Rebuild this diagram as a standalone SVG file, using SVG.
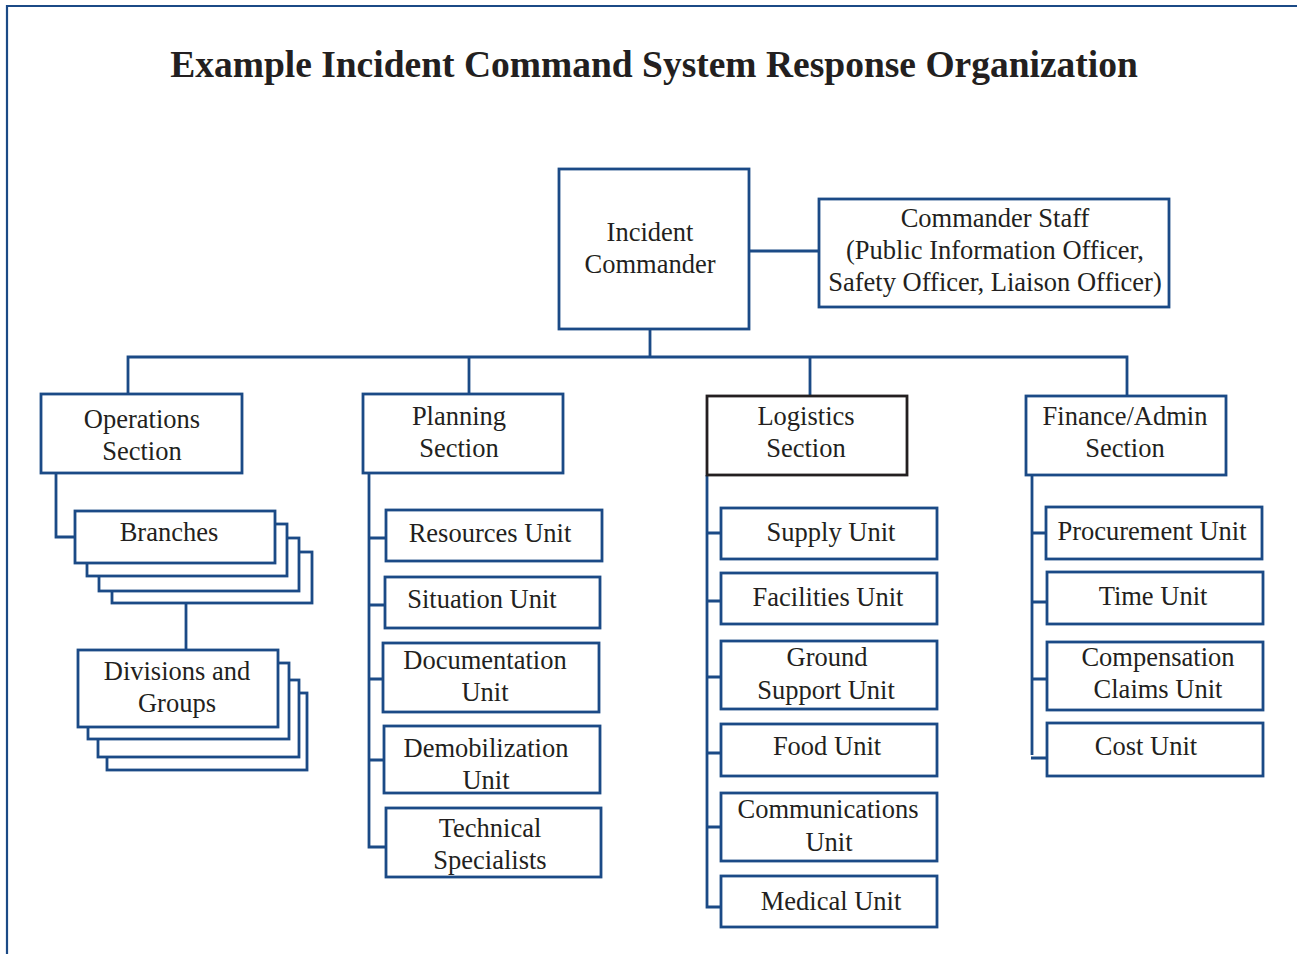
<svg xmlns="http://www.w3.org/2000/svg" width="1297" height="954" viewBox="0 0 1297 954">
<style>
.bx{fill:#fff;stroke:#1b4a86;stroke-width:2.8}
.bk{fill:#fff;stroke:#231f20;stroke-width:2.8}
.ln{fill:none;stroke:#1b4a86;stroke-width:2.8}
.t{font-family:"Liberation Serif","Times New Roman",serif;font-size:26.5px;fill:#231f20;text-anchor:middle}
.ti{font-family:"Liberation Serif","Times New Roman",serif;font-size:37.5px;font-weight:bold;fill:#231f20;text-anchor:middle}
</style>
<rect width="1297" height="954" fill="#fff"/>
<path d="M7,960 V6 H1300" fill="none" stroke="#1b4a86" stroke-width="2.2"/>
<text class="ti" x="654" y="77">Example Incident Command System Response Organization</text>

<g id="connectors">
<path class="ln" d="M749,251 H819"/>
<path class="ln" d="M650,329 V357"/>
<path class="ln" d="M128,394 V357 H1127 V396"/>
<path class="ln" d="M469,357 V394"/>
<path class="ln" d="M810,357 V396"/>
<path class="ln" d="M56,473 V537 H75"/>
<path class="ln" d="M186,603 V650"/>
<path class="ln" d="M369,473 V847 H386"/>
<path class="ln" d="M369,538 H386 M369,605 H385 M369,679 H383 M369,760 H384"/>
<path class="ln" d="M707,475 V907 H721"/>
<path class="ln" d="M707,533 H721 M707,601 H721 M707,677 H721 M707,753 H721 M707,827 H721"/>
<path class="ln" d="M1032,476 V755"/>
<path class="ln" d="M1032,533 H1046 M1032,602 H1047 M1032,679 H1047 M1031,758 H1047"/>
</g>

<g id="incident-commander">
<rect class="bx" x="559" y="169" width="190" height="160"/>
<text class="t" x="650" y="241">Incident</text>
<text class="t" x="650" y="273">Commander</text>
</g>
<g id="commander-staff">
<rect class="bx" x="819" y="199" width="350" height="108"/>
<text class="t" x="995" y="227">Commander Staff</text>
<text class="t" x="995" y="259">(Public Information Officer,</text>
<text class="t" x="995" y="291">Safety Officer, Liaison Officer)</text>
</g>

<g id="operations-section">
<rect class="bx" x="41" y="394" width="201" height="79"/>
<text class="t" x="142" y="428">Operations</text>
<text class="t" x="142" y="460">Section</text>
</g>
<g id="branches">
<rect class="bx" x="112" y="552" width="200" height="51"/>
<rect class="bx" x="99" y="538" width="200" height="53"/>
<rect class="bx" x="87" y="524" width="200" height="52"/>
<rect class="bx" x="75" y="511" width="200" height="52"/>
<text class="t" x="169" y="541">Branches</text>
</g>
<g id="divisions-groups">
<rect class="bx" x="107" y="693" width="200" height="77"/>
<rect class="bx" x="98" y="680" width="201" height="77"/>
<rect class="bx" x="88" y="663" width="201" height="76"/>
<rect class="bx" x="78" y="650" width="200" height="77"/>
<text class="t" x="177" y="680">Divisions and</text>
<text class="t" x="177" y="712">Groups</text>
</g>

<g id="planning-section">
<rect class="bx" x="363" y="394" width="200" height="79"/>
<text class="t" x="459" y="425">Planning</text>
<text class="t" x="459" y="457">Section</text>
</g>
<g id="resources-unit">
<rect class="bx" x="386" y="510" width="216" height="51"/>
<text class="t" x="490" y="542">Resources Unit</text>
</g>
<g id="situation-unit">
<rect class="bx" x="385" y="577" width="215" height="51"/>
<text class="t" x="482" y="608">Situation Unit</text>
</g>
<g id="documentation-unit">
<rect class="bx" x="383" y="643" width="216" height="69"/>
<text class="t" x="485" y="669">Documentation</text>
<text class="t" x="485" y="701">Unit</text>
</g>
<g id="demobilization-unit">
<rect class="bx" x="384" y="726" width="216" height="67"/>
<text class="t" x="486" y="757">Demobilization</text>
<text class="t" x="486" y="789">Unit</text>
</g>
<g id="technical-specialists">
<rect class="bx" x="386" y="808" width="215" height="69"/>
<text class="t" x="490" y="837">Technical</text>
<text class="t" x="490" y="869">Specialists</text>
</g>

<g id="logistics-section">
<rect class="bk" x="707" y="396" width="200" height="79"/>
<text class="t" x="806" y="425">Logistics</text>
<text class="t" x="806" y="457">Section</text>
</g>
<g id="supply-unit">
<rect class="bx" x="721" y="508" width="216" height="51"/>
<text class="t" x="831" y="541">Supply Unit</text>
</g>
<g id="facilities-unit">
<rect class="bx" x="721" y="573" width="216" height="51"/>
<text class="t" x="828" y="606">Facilities Unit</text>
</g>
<g id="ground-support-unit">
<rect class="bx" x="721" y="641" width="216" height="68"/>
<text class="t" x="827" y="666">Ground</text>
<text class="t" x="826" y="699">Support Unit</text>
</g>
<g id="food-unit">
<rect class="bx" x="721" y="724" width="216" height="52"/>
<text class="t" x="827" y="755">Food Unit</text>
</g>
<g id="communications-unit">
<rect class="bx" x="721" y="793" width="216" height="68"/>
<text class="t" x="828" y="818">Communications</text>
<text class="t" x="829" y="851">Unit</text>
</g>
<g id="medical-unit">
<rect class="bx" x="721" y="876" width="216" height="51"/>
<text class="t" x="831" y="910">Medical Unit</text>
</g>

<g id="finance-admin-section">
<rect class="bx" x="1026" y="396" width="200" height="79"/>
<text class="t" x="1125" y="425">Finance/Admin</text>
<text class="t" x="1125" y="457">Section</text>
</g>
<g id="procurement-unit">
<rect class="bx" x="1046" y="507" width="216" height="52"/>
<text class="t" x="1152" y="540">Procurement Unit</text>
</g>
<g id="time-unit">
<rect class="bx" x="1047" y="572" width="216" height="52"/>
<text class="t" x="1153" y="605">Time Unit</text>
</g>
<g id="compensation-claims-unit">
<rect class="bx" x="1047" y="642" width="216" height="68"/>
<text class="t" x="1158" y="666">Compensation</text>
<text class="t" x="1158" y="698">Claims Unit</text>
</g>
<g id="cost-unit">
<rect class="bx" x="1047" y="723" width="216" height="53"/>
<text class="t" x="1146" y="755">Cost Unit</text>
</g>
</svg>
